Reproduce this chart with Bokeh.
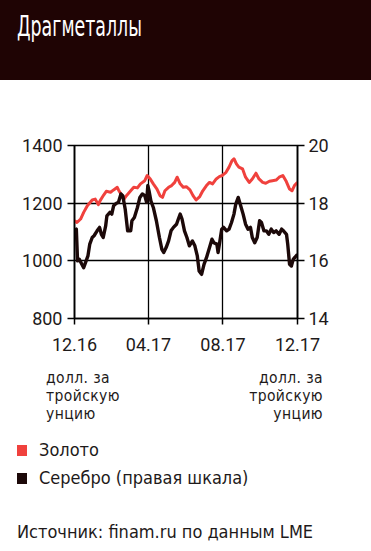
import pandas as pd
from bokeh.plotting import figure
from bokeh.models import Range1d, LinearAxis, FixedTicker, DatetimeTickFormatter, Div
from bokeh.layouts import column
from bokeh.embed import file_html
from bokeh.resources import INLINE

# ---------------- data ----------------
gold_dates = ["2016-12-01", "2016-12-05", "2016-12-11", "2016-12-16", "2016-12-22", "2016-12-30",
              "2017-01-04", "2017-01-09", "2017-01-12", "2017-01-18", "2017-01-22", "2017-01-29",
              "2017-02-03", "2017-02-09", "2017-02-11", "2017-02-15", "2017-02-20", "2017-02-24",
              "2017-03-03", "2017-03-08", "2017-03-14", "2017-03-19", "2017-03-26", "2017-03-30",
              "2017-04-04", "2017-04-09", "2017-04-15", "2017-04-20", "2017-04-24", "2017-04-28",
              "2017-05-04", "2017-05-09", "2017-05-14", "2017-05-18", "2017-05-23", "2017-05-28",
              "2017-06-02", "2017-06-08", "2017-06-13", "2017-06-18", "2017-06-24", "2017-06-29",
              "2017-07-05", "2017-07-10", "2017-07-15", "2017-07-21", "2017-07-26", "2017-07-31",
              "2017-08-06", "2017-08-11", "2017-08-16", "2017-08-19", "2017-08-23", "2017-08-27",
              "2017-09-02", "2017-09-07", "2017-09-13", "2017-09-18", "2017-09-24", "2017-09-29",
              "2017-10-05", "2017-10-10", "2017-10-16", "2017-10-21", "2017-10-27",
              "2017-11-01", "2017-11-07", "2017-11-12", "2017-11-18", "2017-11-22", "2017-11-26",
              "2017-12-01"]
gold_values = [1139, 1133, 1145, 1168, 1191, 1211,
               1214, 1195, 1209, 1229, 1241, 1238,
               1246, 1255, 1246, 1232, 1214, 1226,
               1243, 1255, 1253, 1267, 1278, 1296,
               1284, 1267, 1249, 1226, 1220, 1243,
               1255, 1261, 1272, 1290, 1267, 1255,
               1257, 1246, 1226, 1211, 1223, 1243,
               1261, 1272, 1267, 1284, 1292, 1296,
               1307, 1325, 1348, 1354, 1336, 1325,
               1319, 1290, 1272, 1284, 1304, 1284,
               1272, 1269, 1276, 1278, 1280,
               1290, 1296, 1278, 1249, 1243, 1261,
               1272]

silver_dates = ["2016-12-01", "2016-12-04", "2016-12-06", "2016-12-09", "2016-12-13", "2016-12-16",
                "2016-12-19", "2016-12-23", "2016-12-26", "2016-12-30",
                "2017-01-02", "2017-01-07", "2017-01-11", "2017-01-14", "2017-01-17", "2017-01-21",
                "2017-01-23", "2017-01-28", "2017-01-31",
                "2017-02-03", "2017-02-07", "2017-02-11", "2017-02-15", "2017-02-18", "2017-02-22",
                "2017-02-26",
                "2017-03-03", "2017-03-05", "2017-03-09", "2017-03-14", "2017-03-18", "2017-03-22",
                "2017-03-26", "2017-03-29", "2017-03-31",
                "2017-04-02", "2017-04-05", "2017-04-09", "2017-04-14", "2017-04-19", "2017-04-23",
                "2017-04-26", "2017-04-30",
                "2017-05-04", "2017-05-08", "2017-05-12", "2017-05-17", "2017-05-20", "2017-05-23",
                "2017-05-26", "2017-05-30",
                "2017-06-03", "2017-06-07", "2017-06-12", "2017-06-16", "2017-06-20", "2017-06-23",
                "2017-06-27",
                "2017-07-01", "2017-07-05", "2017-07-10", "2017-07-14", "2017-07-17", "2017-07-22",
                "2017-07-24", "2017-07-27", "2017-07-30",
                "2017-08-02", "2017-08-07", "2017-08-11", "2017-08-15", "2017-08-19", "2017-08-22",
                "2017-08-26", "2017-08-30",
                "2017-09-03", "2017-09-07", "2017-09-11", "2017-09-15", "2017-09-18", "2017-09-22",
                "2017-09-26", "2017-09-30",
                "2017-10-03", "2017-10-07", "2017-10-11", "2017-10-15", "2017-10-19", "2017-10-23",
                "2017-10-27",
                "2017-11-01", "2017-11-05", "2017-11-08", "2017-11-13", "2017-11-15", "2017-11-18",
                "2017-11-21", "2017-11-24", "2017-11-27",
                "2017-12-01"]
silver_values = [17.04, 17.10, 16.00, 16.05, 15.88, 15.76,
                 15.94, 16.17, 16.58, 16.81,
                 16.87, 17.04, 17.16, 16.92, 16.81, 17.21,
                 17.56, 17.68, 17.62,
                 17.91, 17.99, 18.03, 18.32, 18.26, 17.79,
                 17.04,
                 17.04, 17.39, 17.50, 17.85, 18.20, 18.32,
                 18.26, 18.03, 18.61,
                 18.43, 18.08, 17.85, 17.39, 16.81, 16.40,
                 16.29, 16.46,
                 16.69, 17.04, 17.16, 17.27, 17.45, 17.62,
                 17.45, 17.04,
                 16.81, 16.52, 16.69, 16.52, 16.17, 15.65,
                 15.53,
                 15.88, 16.11, 16.46, 16.75, 16.63, 16.58,
                 16.29, 16.69, 17.10,
                 17.16, 17.04, 17.10, 17.33, 17.62, 17.97,
                 18.20, 17.91,
                 17.62, 17.27, 17.10, 17.16, 16.81, 16.63,
                 16.81, 17.39,
                 17.33, 17.04, 17.04, 16.92, 17.10, 16.98,
                 17.04,
                 16.92, 17.10, 17.04, 16.92, 16.58, 15.88,
                 15.82, 16.05, 16.13,
                 16.22]

x_tick_dates = ["2016-12-01", "2017-04-01", "2017-08-01", "2017-12-01"]
gold_ticks = [800, 1000, 1200, 1400]
silver_ticks = [14, 16, 18, 20]

title_text = "Драгметаллы"
unit_lines = ["долл. за", "тройскую", "унцию"]
gold_name = "Золото"
silver_name = "Серебро (правая шкала)"
source_text = "Источник: finam.ru по данным LME"

# ---------------- style ----------------
RED = "#f0413d"
DARK = "#1c0909"
HEADER = "#1f0404"
TXT = "#1e1a1a"
NARROW_CSS = "'Liberation Sans Narrow', 'DejaVu Sans Condensed', 'Roboto Condensed', sans-serif"
NUMF = "Roboto"

def ms(s):
    return pd.Timestamp(s).value / 1e6

gx = pd.to_datetime(gold_dates)
sx = pd.to_datetime(silver_dates)

HEAD_H = 80
FIG_H = 280          # page y 80 .. 360
BOT_H = 551 - HEAD_H - FIG_H

p = figure(width=371, height=FIG_H, x_axis_type="datetime",
           x_range=Range1d(ms(x_tick_dates[0]), ms(x_tick_dates[-1])),
           y_range=Range1d(gold_ticks[0], gold_ticks[-1]),
           output_backend="svg", toolbar_location=None,
           min_border_left=74, min_border_right=74,
           min_border_top=145 - HEAD_H, min_border_bottom=HEAD_H + FIG_H - 318,
           background_fill_color="white", border_fill_color="white")
p.outline_line_color = "black"
p.outline_line_width = 1.5
p.outline_line_alpha = 1.0

p.extra_y_ranges = {"silver": Range1d(silver_ticks[0], silver_ticks[-1])}

p.xgrid.ticker = FixedTicker(ticks=[ms(d) for d in x_tick_dates])
p.ygrid.ticker = FixedTicker(ticks=gold_ticks)
for g in (p.xgrid[0], p.ygrid[0]):
    g.grid_line_color = "black"
    g.grid_line_width = 1.3
    g.grid_line_alpha = 1.0

def style_axis(ax):
    ax.axis_line_color = "black"
    ax.axis_line_width = 1.6
    ax.major_tick_line_color = "black"
    ax.major_tick_line_width = 1.5
    ax.major_tick_in = 0
    ax.major_tick_out = 7
    ax.minor_tick_line_color = None
    ax.major_label_text_font = NUMF
    ax.major_label_text_font_size = "18px"
    ax.major_label_text_color = TXT

xa = p.xaxis[0]
xa.ticker = FixedTicker(ticks=[ms(d) for d in x_tick_dates])
fmt = "%m.%y"
xa.formatter = DatetimeTickFormatter(microseconds=fmt, milliseconds=fmt, seconds=fmt,
                                     minsec=fmt, minutes=fmt, hourmin=fmt, hours=fmt,
                                     days=fmt, months=fmt, years=fmt)
style_axis(xa)
xa.major_tick_out = 6
xa.major_label_standoff = 13

ya = p.yaxis[0]
ya.ticker = FixedTicker(ticks=gold_ticks)
style_axis(ya)
ya.major_label_standoff = 5

ra = LinearAxis(y_range_name="silver", ticker=FixedTicker(ticks=silver_ticks))
style_axis(ra)
ra.major_label_standoff = 4
p.add_layout(ra, "right")

p.line(gx, gold_values, line_color=RED, line_width=3, line_join="round")
p.line(sx, silver_values, line_color=DARK, line_width=3.4, line_join="round",
       y_range_name="silver")

# ---------------- header and footer ----------------
header = Div(width=371, height=HEAD_H,
             styles={"background-color": HEADER, "margin": "0", "padding": "0"},
             text=(f'<div style="position:relative;width:371px;height:{HEAD_H}px;">'
                   f'<div style="position:absolute;left:17px;top:11px;color:white;'
                   f'font-family:{NARROW_CSS};font-size:28px;line-height:32px;'
                   f'transform:scaleX(0.69);transform-origin:0 0;'
                   f'white-space:nowrap;">{title_text}</div></div>'))

Y0 = HEAD_H + FIG_H   # page y of footer top

def abs_text(text, top, left=None, right=None, lh=20, size=18, align="left", extra=""):
    pos = f"left:{left}px;" if left is not None else f"right:{right}px;"
    return (f'<div style="position:absolute;{pos}top:{top - Y0}px;'
            f'font-family:{NARROW_CSS};font-size:{size}px;line-height:{lh}px;'
            f'color:{TXT};text-align:{align};white-space:nowrap;{extra}">{text}</div>')

def sq(left, top, color):
    return (f'<div style="position:absolute;left:{left}px;top:{top - Y0}px;'
            f'width:10px;height:11px;background:{color};"></div>')

LH_U = 18.2
US = 15.5
unit_html = "".join(
    abs_text(t, 378 - LH_U / 2 + i * LH_U, left=46, lh=LH_U, size=US, extra="letter-spacing:0.4px;")
    + abs_text(t, 378 - LH_U / 2 + i * LH_U, right=48, lh=LH_U, size=US, align="right",
               extra="letter-spacing:0.4px;")
    for i, t in enumerate(unit_lines))

foot = (f'<div style="position:relative;width:371px;height:{BOT_H}px;">'
        + unit_html
        + sq(17, 445, RED) + abs_text(gold_name, 440, left=39)
        + sq(17, 473, DARK) + abs_text(silver_name, 468, left=39)
        + abs_text(source_text, 522, left=17)
        + '</div>')
footer = Div(width=371, height=BOT_H, text=foot,
             styles={"background-color": "white", "margin": "0", "padding": "0"})

layout = column(header, p, footer, spacing=0)
open("out.html", "w").write(file_html(layout, INLINE))
